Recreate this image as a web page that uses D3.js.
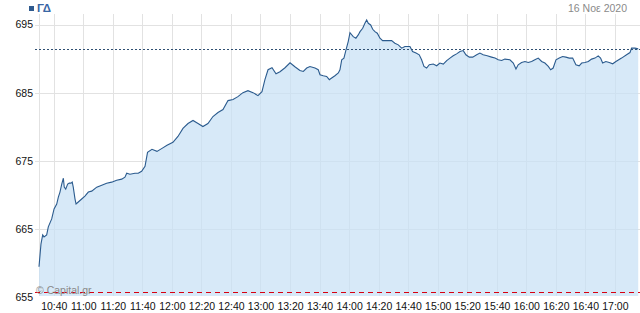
<!DOCTYPE html>
<html><head><meta charset="utf-8">
<script src="https://cdn.jsdelivr.net/npm/d3@7"></script>
<style>
html,body{margin:0;padding:0;background:#fff;}
svg{display:block;font-family:"Liberation Sans",Arial,sans-serif;}
</style></head>
<body>
<svg id="c" width="640" height="313"></svg>
<script>
// minutes after 10:30 on 16 Nov 2020
const minutes = [0,1.35,2.5,3.4,5.2,6.3,8.6,10.2,12.0,13.1,14.2,15.4,16.5,17.1,18.1,19.4,20.5,21.7,22.5,23.2,24.4,25.1,26.6,28.9,31.1,33.4,35.7,39.1,42.5,45.8,49.2,52.6,56.0,58.2,59.4,61.6,65.0,67.2,69.5,71.8,
73.5,76.5,79.9,83.3,86.7,90.7,94.1,97.5,100.9,104.3,107.7,111.0,114.4,117.8,121.2,124.6,128.0,131.4,134.7,138.1,141.5,144.9,148.3,151.0,153.0,155.1,157.8,160.5,163.2,166.6,170.0,173.3,
176.7,179.0,181.3,183.5,186.9,189.1,190.3,192.5,194.8,196.6,198.2,200.4,202.7,203.8,205.0,206.5,207.9,209.4,210.6,212.8,214.6,216.2,217.4,219.2,220.7,221.9,223.0,224.6,226.0,227.5,229.1,230.9,232.7,235.4,238.8,241.0,243.3,245.6,247.8,251.2,253.0,255.3,257.5,259.1,260.7,262.5,264.3,
267.0,269.3,271.5,273.8,276.1,278.3,280.5,282.8,285.1,287.3,289.1,291.4,293.7,296.4,298.6,300.8,303.5,306.5,308.8,311.0,313.3,315.5,318.9,321.2,323.0,324.5,326.8,329.1,331.3,333.6,335.8,338.1,340.4,342.6,344.9,346.5,348.2,350.1,352.3,354.6,356.8,359.1,361.4,363.6,365.8,367.5,369.7,372.0,374.2,376.5,378.7,380.3,381.7,383.9,386.2,388.5,390.7,394.5,397.9,400.2,401.3,403.6,405.8];
const values = [659.45,662.81,664.12,663.83,664.12,665.29,666.46,667.92,668.65,669.67,670.4,671.57,672.44,671.13,670.84,671.57,671.71,671.71,671.86,671.13,669.38,668.65,668.94,669.38,669.81,670.4,670.54,671.13,671.42,671.71,671.86,672.15,672.3,672.59,673.17,673.03,673.17,673.17,673.46,674.19,
676.24,676.68,676.38,676.82,677.26,677.7,678.57,679.74,680.47,680.91,680.47,680.03,680.47,681.49,682.08,682.52,683.83,683.98,684.41,685.0,685.29,685.0,684.56,685.14,686.9,688.36,688.65,687.77,688.06,688.65,689.38,688.8,
688.25,688.11,688.61,688.84,688.61,688.36,687.63,687.48,687.38,686.9,687.15,687.48,687.88,688.36,689.82,690.07,691.28,692.49,693.8,693.22,692.99,693.47,693.95,694.45,695.18,695.66,695.18,694.93,694.3,693.95,693.72,692.99,692.63,692.63,692.63,692.26,692.01,691.53,691.76,691.76,691.03,690.8,690.55,689.82,688.84,688.61,689.09,
689.19,688.94,689.34,689.19,689.71,690.07,690.4,690.69,691.03,691.17,690.55,690.21,690.21,690.55,690.8,690.55,690.4,690.21,690.07,689.82,689.71,689.92,689.82,689.34,688.46,689.09,689.42,689.57,689.42,689.57,689.82,690.07,689.57,689.34,688.84,688.36,688.61,689.82,690.07,690.3,690.21,690.07,690.07,689.09,688.94,689.34,689.42,689.57,689.92,690.07,690.4,690.07,689.34,689.57,689.42,689.23,689.57,690.07,690.55,690.88,691.53,691.53,691.42];
const yTicks = [655,665,675,685,695];
const refLine = 691.38;   // dotted reference (previous close)
const lowLine = 655.7;    // red dashed line
const title = "ΓΔ";
const dateLabel = "16 Νοε 2020";
const watermark = "© Capital.gr";

const start = new Date(2020,10,16,10,30);
const data = minutes.map((m,i)=>({t:new Date(+start + m*60000), v:values[i]}));

const L=39, R=640, T=14, B=296;
const svg = d3.select("#c");
const x = d3.scaleTime().domain([start, new Date(+start + 407*60000)]).range([L,R]);
const y = d3.scaleLinear().domain([655, 695]).range([297, 24.5]);
const xTicks = x.ticks(d3.timeMinute.every(20)).filter(d=>x(d)>L+2 && x(d)<R-2);

// gridlines
const g = svg.append("g");
g.selectAll(".vg").data(xTicks).enter().append("line")
  .attr("x1",d=>Math.round(x(d))+0.5).attr("x2",d=>Math.round(x(d))+0.5)
  .attr("y1",T).attr("y2",B).attr("stroke","#e2e2e2");
g.selectAll(".hg").data(yTicks.filter(d=>d!==655)).enter().append("line")
  .attr("x1",35).attr("x2",R).attr("y1",d=>Math.round(y(d))+0.5).attr("y2",d=>Math.round(y(d))+0.5)
  .attr("stroke","#e2e2e2");
g.append("line").attr("x1",L+0.5).attr("x2",L+0.5).attr("y1",T).attr("y2",B).attr("stroke","#e2e2e2");

// area + line
const area = d3.area().x(d=>x(d.t)).y0(B).y1(d=>y(d.v));
svg.append("path").datum(data).attr("d",area).attr("fill","rgb(200,225,245)").attr("fill-opacity",0.72);
const line = d3.line().x(d=>x(d.t)).y(d=>y(d.v));
svg.append("path").datum(data).attr("d",line).attr("fill","none").attr("stroke","#2b5b8e").attr("stroke-width",1.1);

// reference lines
svg.append("line").attr("x1",35).attr("x2",R).attr("y1",Math.round(y(refLine))+0.5).attr("y2",Math.round(y(refLine))+0.5)
  .attr("stroke","#2f4f72").attr("stroke-dasharray","2,2");
svg.append("line").attr("x1",35).attr("x2",R).attr("y1",Math.round(y(lowLine))+0.5).attr("y2",Math.round(y(lowLine))+0.5)
  .attr("stroke","#d8000f").attr("stroke-width",1.2).attr("stroke-dasharray","5,4");

// watermark
svg.append("text").attr("x",36).attr("y",294).attr("fill","#8a8a8a").attr("font-size","10.5px").text(watermark);

// axes
const ya = svg.append("g").attr("transform",`translate(${L-6},0)`)
  .call(d3.axisLeft(y).tickValues(yTicks).tickSize(0).tickPadding(0).tickFormat(d3.format("d")));
ya.select(".domain").remove();
ya.selectAll("text").attr("font-size","10.5px").attr("fill","#111").attr("font-family","Liberation Sans, Arial, sans-serif");

const xa = svg.append("g").attr("transform",`translate(0,${B})`)
  .call(d3.axisBottom(x).tickValues(xTicks).tickSize(0).tickPadding(7).tickFormat(d3.timeFormat("%H:%M")));
xa.select(".domain").remove();
xa.selectAll("text").attr("font-size","10.5px").attr("fill","#111").attr("font-family","Liberation Sans, Arial, sans-serif");

// title & date
svg.append("rect").attr("x",29).attr("y",6).attr("width",5).attr("height",5).attr("fill","#2f5a8e");
svg.append("text").attr("x",37).attr("y",12).attr("fill","#3a67a5").attr("font-size","11.5px").attr("font-weight","bold").text(title);
svg.append("text").attr("x",627).attr("y",12).attr("text-anchor","end").attr("fill","#8a8a8a").attr("font-size","10.5px").text(dateLabel);
</script>
</body></html>
